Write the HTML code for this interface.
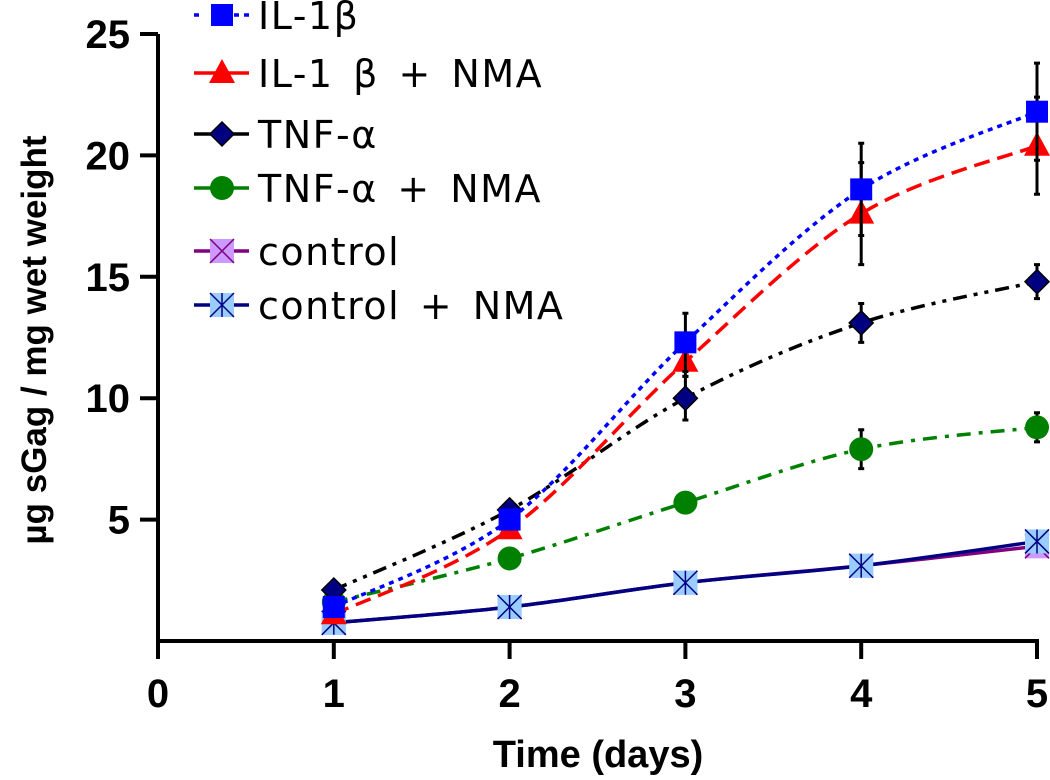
<!DOCTYPE html>
<html><head><meta charset="utf-8"><style>
html,body{margin:0;padding:0;background:#fff}
svg{display:block}
</style></head><body>
<svg id="chart" width="1050" height="780" viewBox="0 0 1050 780" xmlns="http://www.w3.org/2000/svg">
<g id="axes"></g>
<g id="series"></g>
<g id="legend"></g>
<text x="598" y="767" text-anchor="middle" font-family="Liberation Sans, sans-serif" font-weight="bold" font-size="38">Time (days)</text>
<text transform="translate(46,340) rotate(-90)" text-anchor="middle" font-family="Liberation Sans, sans-serif" font-weight="bold" font-size="35">µg sGag / mg wet weight</text>
</svg>
<script>
const days = [1,2,3,4,5];
const xTicks = [0,1,2,3,4,5];
const yTicks = [5,10,15,20,25];
const il1b = [1.4,5.0,12.3,18.6,21.8];
const il1bErr = [0,0,1.2,1.9,2.0];
const il1bNma = [1.1,4.6,11.5,17.6,20.4];
const il1bNmaErr = [0,0,0.6,2.1,2.0];
const tnf = [2.1,5.4,10.0,13.1,14.8];
const tnfErr = [0,0,0.9,0.8,0.7];
const tnfNma = [1.6,3.4,5.7,7.9,8.8];
const tnfNmaErr = [0,0,0.3,0.8,0.6];
const control = [0.75,1.4,2.4,3.1,3.9];
const controlNma = [0.75,1.4,2.4,3.1,4.1];

const NS='http://www.w3.org/2000/svg';
const X = v => 158 + v*175.8;
const Y = v => 641 - v*24.28;
function mk(tag, attrs, parent){const e=document.createElementNS(NS,tag);for(const k in attrs)e.setAttribute(k,attrs[k]);parent.appendChild(e);return e;}
const axes=document.getElementById('axes');
let e=mk('line',{x1:X(0),y1:Y(0),x2:X(5)+2,y2:Y(0),stroke:'#000','stroke-width':4},axes);


e=mk('line',{x1:158,y1:Y(0)+2,x2:158,y2:Y(25),stroke:'#000','stroke-width':4},axes);


xTicks.forEach(t=>{
  const l=mk('line',{x1:X(t),y1:Y(0),x2:X(t),y2:Y(0)+18,stroke:'#000','stroke-width':4},axes);
  
  
  const tx=mk('text',{x:X(t),y:707,'text-anchor':'middle','font-family':'Liberation Sans, sans-serif','font-weight':'bold','font-size':40},axes);
  tx.textContent=t;
  
  
});
yTicks.forEach(t=>{
  const l=mk('line',{x1:140,y1:Y(t),x2:158,y2:Y(t),stroke:'#000','stroke-width':4},axes);
  
  
  const tx=mk('text',{x:130,y:Y(t)+14,'text-anchor':'end','font-family':'Liberation Sans, sans-serif','font-weight':'bold','font-size':40},axes);
  tx.textContent=t;
  
  
});

function smooth(pts){
  let d='M'+pts[0][0]+','+pts[0][1];
  for(let i=0;i<pts.length-1;i++){
    const p0=pts[i-1]||pts[i],p1=pts[i],p2=pts[i+1],p3=pts[i+2]||p2;
    const c1=[p1[0]+(p2[0]-p0[0])/6,p1[1]+(p2[1]-p0[1])/6];
    const c2=[p2[0]-(p3[0]-p1[0])/6,p2[1]-(p3[1]-p1[1])/6];
    d+=' C'+c1+' '+c2+' '+p2;
  }
  return d;
}
function marker(g,type,cx,cy){
  let m;
  if(type==='square') m=mk('rect',{x:cx-11,y:cy-11,width:22,height:22,fill:'#0000ff'},g);
  else if(type==='triangle') m=mk('polygon',{points:`${cx},${cy-14} ${cx+13},${cy+10} ${cx-13},${cy+10}`,fill:'#ff0000'},g);
  else if(type==='diamond') m=mk('polygon',{points:`${cx},${cy-12} ${cx+12},${cy} ${cx},${cy+12} ${cx-12},${cy}`,fill:'#000080',stroke:'#000','stroke-width':1.5},g);
  else if(type==='circle') m=mk('ellipse',{cx:cx,cy:cy,rx:12,ry:12,fill:'#008000'},g);
  else if(type==='xbox'){
    m=mk('rect',{x:cx-12,y:cy-12,width:24,height:24,fill:'#cc99ff'},g);
    mk('path',{d:`M${cx-12},${cy-12}L${cx+12},${cy+12}M${cx+12},${cy-12}L${cx-12},${cy+12}`,stroke:'#800080','stroke-width':1.5},g);
  } else {
    m=mk('rect',{x:cx-12,y:cy-12,width:24,height:24,fill:'#99ccff'},g);
    mk('path',{d:`M${cx-12},${cy-12}L${cx+12},${cy+12}M${cx+12},${cy-12}L${cx-12},${cy+12}M${cx},${cy-12}L${cx},${cy+12}`,stroke:'#000080','stroke-width':1.5},g);
  }
  return m;
}
const seriesDefs=[
  {name:'control',vals:control,err:null,color:'#800080',dash:'',mk:'xbox',label:'control'},
  {name:'control-nma',vals:controlNma,err:null,color:'#000080',dash:'',mk:'star',label:'control + NMA'},
  {name:'tnf-nma',vals:tnfNma,err:tnfNmaErr,color:'#008000',dash:'14 8 4 8',mk:'circle',label:'TNF-α + NMA'},
  {name:'tnf',vals:tnf,err:tnfErr,color:'#000000',dash:'14 7 4 7 4 7',mk:'diamond',label:'TNF-α'},
  {name:'il1b-nma',vals:il1bNma,err:il1bNmaErr,color:'#ff0000',dash:'16 8',mk:'triangle',label:'IL-1 β + NMA'},
  {name:'il1b',vals:il1b,err:il1bErr,color:'#0000ff',dash:'5 5',mk:'square',label:'IL-1β'}
];
const sg=document.getElementById('series');
seriesDefs.forEach(s=>{
  const g=mk('g',{},sg);
  
  
  const pts=days.map((d,i)=>[X(d),Y(s.vals[i])]);
  const p=mk('path',{d:smooth(pts),fill:'none',stroke:s.color,'stroke-width':3.5,'stroke-dasharray':s.dash},g);
  
  
  if(s.err) days.forEach((d,i)=>{
    if(!s.err[i])return;
    const eb=mk('path',{d:`M${X(d)},${Y(s.vals[i]+s.err[i])}V${Y(s.vals[i]-s.err[i])}M${X(d)-3},${Y(s.vals[i]+s.err[i])}h6M${X(d)-3},${Y(s.vals[i]-s.err[i])}h6`,stroke:'#000','stroke-width':3},g);
    
    
  });
  days.forEach((d,i)=>{
    const m=marker(g,s.mk,X(d),Y(s.vals[i]));
    
    
  });
});
const lg=document.getElementById('legend');
const legOrder=['il1b','il1b-nma','tnf','tnf-nma','control','control-nma'];
const legY=[15,73,134,188,251,305];
legOrder.forEach((n,i)=>{
  const s=seriesDefs.find(q=>q.name===n);
  const g=mk('g',{},lg);
  
  
  const y=legY[i];
  mk('line',{x1:194,y1:y,x2:249,y2:y,stroke:s.color,'stroke-width':3.5,'stroke-dasharray':s.dash?(s.dash==='5 5'?'5 35 5':''):''},g);
  marker(g,s.mk,222,y);
  const t=mk('text',{x:258,y:y+14,'font-family':'DejaVu Sans, Liberation Sans, sans-serif','font-size':38,'letter-spacing':1.5,'word-spacing':6},g);
  t.textContent=s.label;
});
</script>
</body></html>
